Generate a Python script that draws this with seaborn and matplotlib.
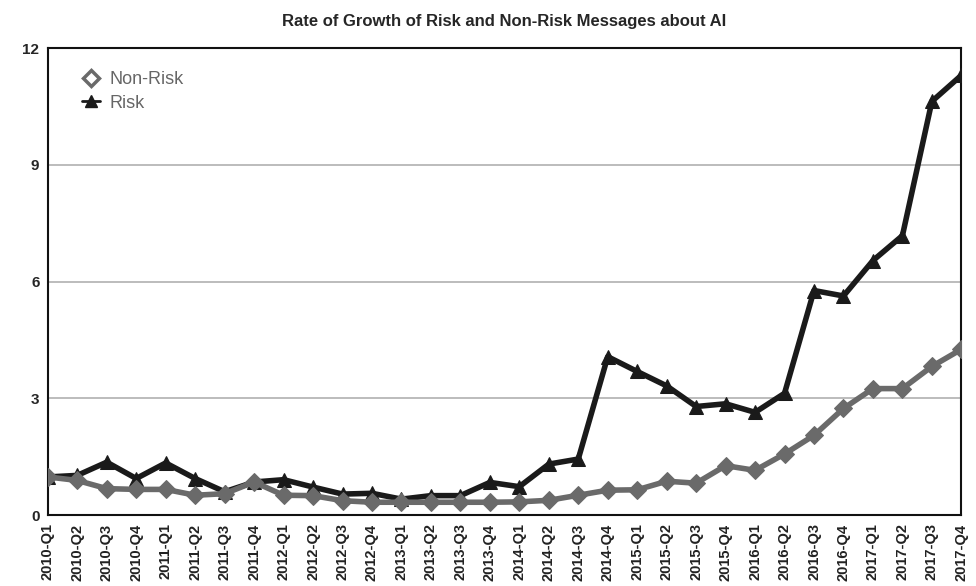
import pandas as pd
import matplotlib.pyplot as plt
import seaborn as sns
from matplotlib.lines import Line2D

# data
quarters = [f'{y}-Q{q}' for y in range(2010, 2018) for q in range(1, 5)]
non_risk = [0.98, 0.89, 0.68, 0.66, 0.66, 0.51, 0.55, 0.85, 0.51, 0.50,
            0.37, 0.33, 0.33, 0.33, 0.33, 0.33, 0.34, 0.38, 0.51, 0.64,
            0.65, 0.87, 0.82, 1.27, 1.15, 1.57, 2.05, 2.74, 3.25, 3.25,
            3.82, 4.26]
risk = [0.98, 1.02, 1.36, 0.94, 1.34, 0.94, 0.60, 0.85, 0.91, 0.72,
        0.54, 0.56, 0.41, 0.50, 0.50, 0.84, 0.73, 1.31, 1.44, 4.07,
        3.69, 3.32, 2.79, 2.86, 2.64, 3.13, 5.77, 5.63, 6.54, 7.18,
        10.63, 11.30]

df = pd.DataFrame({'quarter': quarters, 'Non-Risk': non_risk, 'Risk': risk})
df['pos'] = range(len(df))

sns.set_style('white')
plt.rcParams['font.family'] = ['Liberation Sans', 'DejaVu Sans']

fig = plt.figure(figsize=(9.76, 5.86), dpi=100)
ax = fig.add_axes([0.049, 0.121, 0.936, 0.797])

risk_col = '#1a1a1a'
non_col = '#6a6a6a'

sns.lineplot(data=df, x='pos', y='Risk', ax=ax, color=risk_col, linewidth=4,
             marker='^', markersize=10, markeredgecolor=risk_col, zorder=3)
sns.lineplot(data=df, x='pos', y='Non-Risk', ax=ax, color=non_col, linewidth=4,
             marker='D', markersize=9, markeredgecolor=non_col, zorder=4)

ax.set_xlim(0, len(quarters) - 1)
ax.set_ylim(0, 12)
ax.set_yticks([0, 3, 6, 9, 12])
ax.yaxis.grid(True, color='#b0b0b0', linewidth=1.2)
ax.set_axisbelow(True)
ax.set_xticks(range(len(quarters)))
ax.set_xticklabels(quarters, rotation=90, fontsize=10.5, fontweight='bold', color='#222222')
for lbl in ax.get_yticklabels():
    lbl.set_fontsize(11)
    lbl.set_fontweight('bold')
ax.tick_params(axis='both', length=0, pad=6)
ax.set_xlabel('')
ax.set_ylabel('')
for sp in ax.spines.values():
    sp.set_color('#111111')
    sp.set_linewidth(1.5)
    sp.set_visible(True)

ax.set_title('Rate of Growth of Risk and Non-Risk Messages about AI',
             fontsize=12, fontweight='bold', pad=16)

handles = [
    Line2D([], [], linestyle='none', marker='D', markersize=8,
           markerfacecolor='white', markeredgecolor=non_col, markeredgewidth=2.5),
    Line2D([], [], color=risk_col, linewidth=2, marker='^', markersize=8,
           markerfacecolor=risk_col, markeredgecolor=risk_col),
]
leg = ax.legend(handles, ['Non-Risk', 'Risk'], loc='upper left',
                bbox_to_anchor=(0.02, 0.985), frameon=False, fontsize=13,
                handlelength=1.0, handletextpad=0.5, labelspacing=0.35)
for t in leg.get_texts():
    t.set_color('#666666')

fig.savefig('out.png', dpi=100)
